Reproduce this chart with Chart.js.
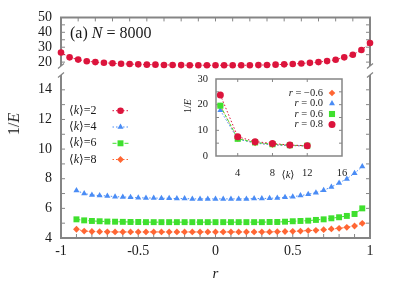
<!DOCTYPE html>
<html><head><meta charset="utf-8">
<script src="https://cdn.jsdelivr.net/npm/chart.js@4.4.0/dist/chart.umd.min.js"></script>
<style>
html,body{margin:0;padding:0;background:#fff;}
#wrap{position:relative;width:407px;height:285px;overflow:hidden;background:#fff;font-family:"Liberation Serif","DejaVu Serif",serif;color:#1a1a1a;}
#wrap canvas{position:absolute;left:0;top:0;}
.lbl{position:absolute;white-space:nowrap;line-height:1;}
</style></head><body>
<div id="wrap">
<canvas id="cLow" width="407" height="285"></canvas>
<canvas id="cTop" width="407" height="285"></canvas>
<canvas id="cIn" width="407" height="285"></canvas>
<div class="lbl" style="left:14px;top:124px;font-size:16px;transform:translate(-50%,-50%) rotate(-90deg);">1/<i>E</i></div>
<div class="lbl" style="left:70px;top:25px;font-size:16px;">(a) <i>N</i> = 8000</div>
<div class="lbl" style="left:188px;top:106px;font-size:10px;transform:translate(-50%,-50%) rotate(-90deg);">1/<i>E</i></div>
<div class="lbl" style="left:288px;top:175px;font-size:10.5px;transform:translate(-50%,-50%);">⟨<i>k</i>⟩</div>
</div>
<script>
// ---- data ----
const rTop = [-0.9,-0.85,-0.8,-0.75,-0.7,-0.65,-0.6,-0.55,-0.5,-0.45,-0.4,-0.35,-0.3,-0.25,-0.2,-0.15,-0.1,-0.05,0,0.05,0.1,0.15,0.2,0.25,0.3,0.35,0.4,0.45,0.5,0.55,0.6,0.65,0.7,0.75,0.8,0.85,0.9];
const rLow = [-0.9,-0.85,-0.8,-0.75,-0.7,-0.65,-0.6,-0.55,-0.5,-0.45,-0.4,-0.35,-0.3,-0.25,-0.2,-0.15,-0.1,-0.05,0,0.05,0.1,0.15,0.2,0.25,0.3,0.35,0.4,0.45,0.5,0.55,0.6,0.65,0.7,0.75,0.8,0.85,0.9,0.95];
const invE_k2 = [26.5,23.2,21.7,20.6,20.0,19.6,19.2,18.9,18.7,18.5,18.3,18.3,18.1,18.1,18.0,17.9,17.9,17.9,17.9,17.9,17.9,17.9,17.9,18.0,18.1,18.3,18.5,18.7,19.1,19.5,20.0,20.7,21.6,23.2,24.9,28.1,32.8];
const invE_k4 = [7.20,7.00,6.91,6.86,6.84,6.79,6.77,6.75,6.72,6.70,6.70,6.68,6.68,6.66,6.66,6.64,6.64,6.64,6.64,6.64,6.64,6.64,6.64,6.66,6.66,6.68,6.70,6.75,6.79,6.86,6.95,7.06,7.22,7.44,7.72,7.99,8.37,8.82];
const invE_k6 = [5.26,5.19,5.15,5.13,5.11,5.10,5.09,5.08,5.08,5.07,5.07,5.07,5.07,5.07,5.07,5.07,5.07,5.07,5.07,5.07,5.07,5.07,5.07,5.07,5.07,5.08,5.08,5.10,5.13,5.15,5.17,5.22,5.26,5.33,5.40,5.49,5.62,6.00];
const invE_k8 = [4.59,4.47,4.44,4.43,4.42,4.41,4.41,4.41,4.41,4.41,4.41,4.41,4.41,4.41,4.41,4.41,4.41,4.41,4.41,4.41,4.41,4.41,4.41,4.41,4.41,4.41,4.43,4.44,4.45,4.47,4.50,4.52,4.56,4.61,4.65,4.72,4.81,4.99];
const kInset = [2,4,6,8,10,12];
const inset_rm06 = [19.5,6.8,5.1,4.4,4.1,3.9];
const inset_r00 = [17.8,6.6,5.0,4.35,4.1,3.9];
const inset_r06 = [19.6,6.7,5.3,4.6,4.2,4.0];
const inset_r08 = [23.8,7.5,5.6,4.9,4.25,4.0];
const xTickLabelsMain = [-1,-0.5,0,0.5,1];
const yTickLabelsLow = [4,6,8,10,12,14];
const yTickLabelsTop = [20,30,40,50];
const xTickLabelsInset = [4,8,12,16];
const yTickLabelsInset = [0,10,20,30];
const legendMainKs = ['2','4','6','8'];
const legendInsetRs = ['−0.6','0.0','0.6','0.8'];

// ---- styles ----
const RED='#dc143c', BLUE='#4a8cf5', GREEN='#3fe02e', ORANGE='#ff6633';
const FRAME='#858585', TXT='#1a1a1a';
const FONT='"Liberation Serif","DejaVu Serif",serif';
const ST = {
  k2:{color:RED, pointStyle:'circle', radius:3.3, dash:[1.5,2]},
  k4:{color:BLUE, pointStyle:'triangle', radius:3.5, dash:[1.5,2]},
  k6:{color:GREEN, pointStyle:'rect', radius:4.2, dash:[4,2]},
  k8:{color:ORANGE, pointStyle:'rectRot', radius:3.4, dash:[1.5,2]}
};
const mk = (xs, ys) => xs.map((x,i)=>({x:x, y:ys[i]}));
function ds(label, data, st){
  return {label, data, borderColor:st.color, backgroundColor:st.color, pointBackgroundColor:st.color,
    pointBorderColor:st.color, pointBorderWidth:0, pointStyle:st.pointStyle, pointRadius:st.radius,
    borderWidth:1, borderDash:st.dash, showLine:true, clip:false};
}
function marker(ctx, st, x, y){
  ctx.save(); ctx.fillStyle=st.color; ctx.strokeStyle=st.color; ctx.setLineDash([]);
  Chart.helpers.drawPoint(ctx, {pointStyle:st.pointStyle, radius:st.radius, rotation:0, borderWidth:0}, x, y);
  ctx.restore();
}
function framePlugin(o){
  return {id:'frame', beforeDatasetsDraw(chart){
    const ctx=chart.ctx, a=chart.chartArea, x=chart.scales.x, y=chart.scales.y;
    ctx.save();
    if(o.fill){ctx.fillStyle='#fff';ctx.fillRect(a.left,a.top,a.right-a.left,a.bottom-a.top);}
    ctx.strokeStyle=FRAME; ctx.lineWidth=o.lw; ctx.setLineDash([]);
    ctx.beginPath();
    if(o.left){ctx.moveTo(a.left,a.top);ctx.lineTo(a.left,a.bottom);}
    if(o.right){ctx.moveTo(a.right,a.top);ctx.lineTo(a.right,a.bottom);}
    if(o.top){ctx.moveTo(a.left-o.lw/2,a.top);ctx.lineTo(a.right+o.lw/2,a.top);}
    if(o.bottom){ctx.moveTo(a.left-o.lw/2,a.bottom);ctx.lineTo(a.right+o.lw/2,a.bottom);}
    ctx.stroke();
    ctx.lineWidth=1; ctx.beginPath();
    const L=o.tl;
    (o.yTicks||[]).forEach(v=>{const p=y.getPixelForValue(v);
      ctx.moveTo(a.left,p);ctx.lineTo(a.left+L,p);ctx.moveTo(a.right,p);ctx.lineTo(a.right-L,p);});
    (o.xTicksTop||[]).forEach(v=>{const p=x.getPixelForValue(v);ctx.moveTo(p,a.top);ctx.lineTo(p,a.top+L);});
    (o.xTicksBottom||[]).forEach(v=>{const p=x.getPixelForValue(v);ctx.moveTo(p,a.bottom);ctx.lineTo(p,a.bottom-L);});
    ctx.stroke();
    if(o.breakAt){
      const yb = o.breakAt==='top'?a.top:a.bottom;
      ctx.lineWidth=1.2; ctx.beginPath();
      [a.left,a.right].forEach(px=>{ctx.moveTo(px-3,yb+2.5);ctx.lineTo(px+3,yb-2.5);});
      ctx.stroke();
    }
    ctx.restore();
  }};
}
const baseOpts = {responsive:false, animation:false, devicePixelRatio:1, events:[],
  plugins:{legend:{display:false}, tooltip:{enabled:false}}};
function steps(a,b,s){const r=[];for(let v=a;v<=b+1e-9;v+=s)r.push(Math.round(v*1000)/1000);return r;}
const noGrid = {display:false, drawTicks:false};

// ---- lower panel ----
new Chart(document.getElementById('cLow'), {
  type:'scatter',
  data:{datasets:[ds('⟨k⟩=8',mk(rLow,invE_k8),ST.k8), ds('⟨k⟩=6',mk(rLow,invE_k6),ST.k6), ds('⟨k⟩=4',mk(rLow,invE_k4),ST.k4)]},
  options:Object.assign({}, baseOpts, {
    layout:{padding:{top:75,right:37,bottom:0,left:0}},
    scales:{
      x:{type:'linear',min:-1,max:1,grid:noGrid,border:{display:false},
        afterBuildTicks:s=>{s.ticks=xTickLabelsMain.map(v=>({value:v}));},
        afterFit:s=>{s.height=47;},
        ticks:{autoSkip:false,maxRotation:0,padding:5,color:TXT,font:{family:FONT,size:14},callback:v=>String(v)},
        title:{display:true,text:'r',color:TXT,font:{family:FONT,size:15,style:'italic'},padding:{top:0,bottom:2}}},
      y:{type:'linear',min:4,max:15,grid:noGrid,border:{display:false},
        afterBuildTicks:s=>{s.ticks=yTickLabelsLow.map(v=>({value:v}));},
        afterFit:s=>{s.width=61;},
        ticks:{autoSkip:false,padding:9,color:TXT,font:{family:FONT,size:14},callback:v=>String(v)}}
    }
  }),
  plugins:[framePlugin({left:true,right:true,bottom:true,lw:2,tl:4,
    yTicks:steps(5,14,1), xTicksBottom:steps(-0.9,0.9,0.1), breakAt:'top'}),
    {id:'legendMain', afterDraw(chart){
      const ctx=chart.ctx; ctx.save();
      const rows=[110.7,127,143.3,159.5]; const sts=[ST.k2,ST.k4,ST.k6,ST.k8];
      legendMainKs.forEach((k,i)=>{
        const y=rows[i]; let x=69;
        ctx.fillStyle=TXT; ctx.textBaseline='middle'; ctx.textAlign='left';
        ctx.font='12px '+FONT; ctx.fillText('⟨',x,y); x+=ctx.measureText('⟨').width;
        ctx.font='italic 12px '+FONT; ctx.fillText('k',x,y); x+=ctx.measureText('k').width;
        ctx.font='12px '+FONT; ctx.fillText('⟩='+k,x,y);
        const st=sts[i];
        ctx.strokeStyle=st.color; ctx.lineWidth=1; ctx.setLineDash(st.dash);
        ctx.beginPath(); ctx.moveTo(112.5,y); ctx.lineTo(128.5,y); ctx.stroke();
        marker(ctx,st,120.5,y);
      });
      ctx.restore();
    }}]
});

// ---- upper panel ----
new Chart(document.getElementById('cTop'), {
  type:'scatter',
  data:{datasets:[ds('⟨k⟩=2',mk(rTop,invE_k2),ST.k2)]},
  options:Object.assign({}, baseOpts, {
    layout:{padding:{top:16,right:37,bottom:219,left:0}},
    scales:{
      x:{type:'linear',min:-0.9,max:0.9,display:false},
      y:{type:'linear',min:17.4,max:50,grid:noGrid,border:{display:false},
        afterBuildTicks:s=>{s.ticks=yTickLabelsTop.map(v=>({value:v}));},
        afterFit:s=>{s.width=61;},
        ticks:{autoSkip:false,padding:9,color:TXT,font:{family:FONT,size:14},callback:v=>String(v)}}
    }
  }),
  plugins:[framePlugin({left:true,right:true,top:true,lw:2,tl:4,
    yTicks:steps(20,45,5), xTicksTop:steps(-0.8,0.8,0.1), breakAt:'bottom'})]
});

// ---- inset ----
const IST = {
  m06:Object.assign({},ST.k8,{radius:3.3}),
  r00:Object.assign({},ST.k4,{radius:3.4}),
  r06:Object.assign({},ST.k6,{radius:4.3,dash:[3,2]}),
  r08:Object.assign({},ST.k2,{radius:3.5})
};
new Chart(document.getElementById('cIn'), {
  type:'scatter',
  data:{datasets:[ds('r = 0.8',mk(kInset,inset_r08),IST.r08), ds('r = 0.6',mk(kInset,inset_r06),IST.r06),
    ds('r = 0.0',mk(kInset,inset_r00),IST.r00), ds('r = −0.6',mk(kInset,inset_rm06),IST.m06)]},
  options:Object.assign({}, baseOpts, {
    layout:{padding:{top:79,right:65,bottom:104,left:0}},
    scales:{
      x:{type:'linear',min:1.5,max:16,grid:noGrid,border:{display:false},
        afterBuildTicks:s=>{s.ticks=xTickLabelsInset.map(v=>({value:v}));},
        afterFit:s=>{s.height=25;},
        ticks:{autoSkip:false,maxRotation:0,padding:11,color:TXT,font:{family:FONT,size:10.5},callback:v=>String(v)}},
      y:{type:'linear',min:0,max:30,grid:noGrid,border:{display:false},
        afterBuildTicks:s=>{s.ticks=yTickLabelsInset.map(v=>({value:v}));},
        afterFit:s=>{s.width=216;},
        ticks:{autoSkip:false,padding:8,color:TXT,font:{family:FONT,size:10.5},callback:v=>String(v)}}
    }
  }),
  plugins:[framePlugin({left:true,right:true,top:true,bottom:true,fill:true,lw:1.5,tl:3,
    yTicks:[5,10,15,20,25], xTicksTop:[4,8,12], xTicksBottom:[4,8,12]}),
    {id:'legendIn', afterDraw(chart){
      const ctx=chart.ctx; ctx.save();
      const rows=[93,103.5,114,124.5]; const sts=[IST.m06,IST.r00,IST.r06,IST.r08];
      legendInsetRs.forEach((r,i)=>{
        const y=rows[i]; const xr=323;
        ctx.fillStyle=TXT; ctx.textBaseline='middle'; ctx.textAlign='right';
        ctx.font='10.5px '+FONT; const t=' = '+r; ctx.fillText(t,xr,y);
        const w=ctx.measureText(t).width;
        ctx.font='italic 10.5px '+FONT; ctx.fillText('r',xr-w,y);
        marker(ctx,sts[i],332,y);
      });
      ctx.restore();
    }}]
});
</script>
</body></html>
